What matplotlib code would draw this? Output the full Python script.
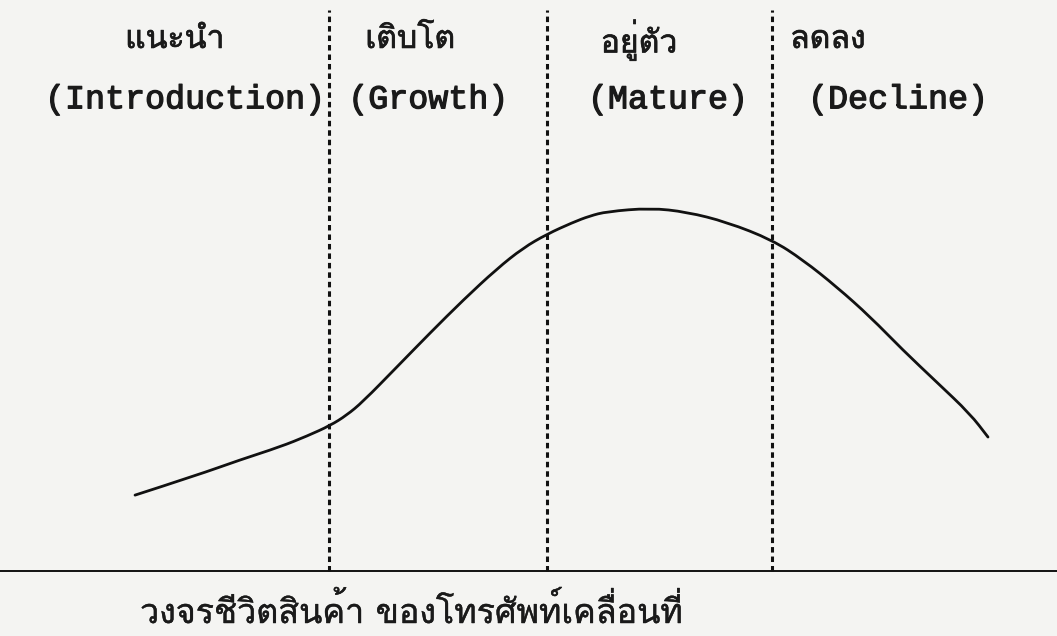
import matplotlib
matplotlib.use("Agg")
import matplotlib.pyplot as plt
import matplotlib.patheffects as pe
from matplotlib.path import Path
from matplotlib.patches import PathPatch

# product life cycle curve (time 0-100, sales peak = 100)
time = [0, 7.27, 12.3, 17.0, 20.2, 22.9, 24.8, 26.7, 30.7, 34.6, 38.5, 42.4,
        45.5, 48.3, 51.3, 53.3, 55.3, 60.4, 64.7, 69.4, 74.7, 78.3, 82.3,
        86.2, 90.0, 94.0, 97.9, 100]
sales = [20.9, 26.4, 30.6, 34.2, 37.2, 40.1, 42.9, 46.6, 56.2, 65.6, 74.7,
         83.2, 89.0, 92.8, 96.0, 97.8, 99.0, 100, 98.9, 96.1, 91.2, 85.7,
         78.2, 70.0, 60.9, 52.0, 43.3, 36.9]

# stage boundaries
bounds = [22.74, 48.3, 74.68]

stage_th = ["แนะนำ", "เติบโต", "อยู่ตัว", "ลดลง"]
stage_en = ["(Introduction)", "(Growth)", "(Mature)", "(Decline)"]
th_x = [-1.17, 27.0, 54.6, 76.8]
en_x = [-10.55, 25.0, 53.1, 78.9]

caption = "วงจรชีวิตสินค้า ของโทรศัพท์เคลื่อนที่"

thai_font = ["Loma", "Noto Sans Thai Looped", "DejaVu Sans"]
mono_font = ["Liberation Mono", "DejaVu Sans Mono"]
ink = "#1a1a1a"
bg = "#f4f4f2"

fig = plt.figure(figsize=(10.57, 6.36), dpi=100, facecolor=bg)
ax = fig.add_axes([0, 0, 1, 1])
ax.set_facecolor(bg)
ax.set_xlim(-15.83, 108.09)
ax.set_ylim(-17.91, 157.3)
ax.axis("off")

# smooth the hand-drawn curve with quadratic bezier segments
pts = list(zip(time, sales))
verts = [pts[0]]
codes = [Path.MOVETO]
for i in range(1, len(pts) - 1):
    mid = ((pts[i][0] + pts[i + 1][0]) / 2, (pts[i][1] + pts[i + 1][1]) / 2)
    verts += [pts[i], mid]
    codes += [Path.CURVE3, Path.CURVE3]
verts.append(pts[-1])
codes.append(Path.LINETO)
ax.add_patch(PathPatch(Path(verts, codes), facecolor="none",
                       edgecolor="#111111", linewidth=2.0, capstyle="round"))

ax.vlines(bounds, 0, 154.5, colors="#111111", linewidth=2.2,
          linestyles=[(0, (1.8, 1.3))])
ax.axhline(0, color="#111111", linewidth=1.4)

for x, s in zip(th_x, stage_th):
    ax.text(x, 146.3, s, fontsize=23, family=thai_font, ha="left",
            va="center", color=ink,
            path_effects=[pe.withStroke(linewidth=0.5, foreground=ink)])
for x, s in zip(en_x, stage_en):
    ax.text(x, 129.8, s, fontsize=24, family=mono_font, ha="left",
            va="center", color=ink,
            path_effects=[pe.withStroke(linewidth=0.9, foreground=ink)])

ax.text(0.59, -11.3, caption, fontsize=24.5, family=thai_font, ha="left",
        va="center", color=ink,
        path_effects=[pe.withStroke(linewidth=0.3, foreground=ink)])

plt.savefig("out.png", facecolor=fig.get_facecolor())
